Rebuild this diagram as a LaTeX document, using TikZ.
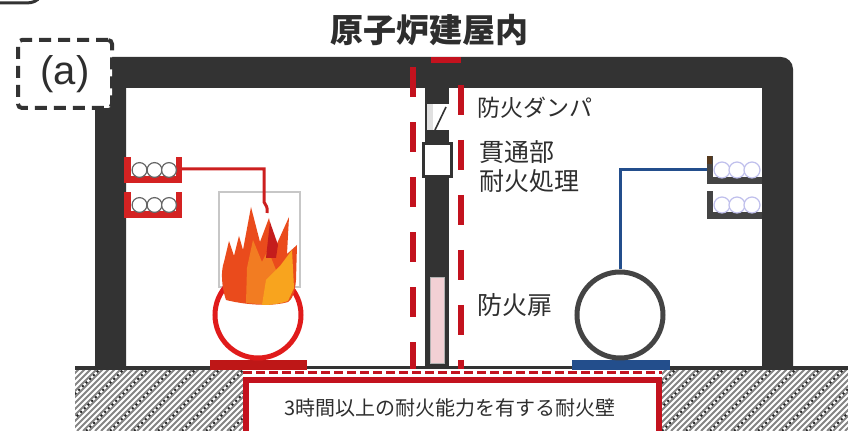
\documentclass[tikz,border=0pt]{standalone}
\usepackage{fontspec}
\newfontfamily\jp{Noto Sans CJK JP}
\newfontfamily\latsans{Liberation Sans}
\definecolor{wallgray}{HTML}{333333}
\definecolor{zonered}{HTML}{C3121E}
\definecolor{trayred}{HTML}{D42222}
\definecolor{eqred}{HTML}{E01B1B}
\definecolor{cablered}{HTML}{CC1F1F}
\definecolor{steelblue}{HTML}{234E8C}
\definecolor{equipgray}{HTML}{444444}
\definecolor{hatchgray}{HTML}{858585}
\definecolor{textgray}{HTML}{2E2E2E}
\definecolor{doorpink}{HTML}{F2D0D4}
\definecolor{flameA}{HTML}{EA4B1C}
\definecolor{flameB}{HTML}{F27C22}
\definecolor{flameC}{HTML}{F8A41E}
\definecolor{flameD}{HTML}{C41C1C}
\begin{document}
\begin{tikzpicture}[x=0.5pt,y=-0.5pt,
  wall/.style={fill=wallgray},
  firezone/.style={draw=zonered, line width=3pt, dash pattern=on 15pt off 12.5pt},
  floorzone/.style={draw=zonered, line width=1.5pt, dash pattern=on 4.5pt off 2pt},
  hatchline/.style={draw=hatchgray, line width=1pt},
  hatchdots/.style={draw=black!85, line width=1pt, dash pattern=on 1pt off 1.6pt},
  lbl/.style={text=textgray, inner sep=0pt, anchor=west},
  cablecirc/.style={fill=white, draw=#1, line width=0.6pt},
  equip/.style={circle, draw=#1, line width=2.5pt, fill=white, minimum size=43pt, inner sep=0pt},
  redcable/.style={draw=cablered, line width=1.5pt},
  bluecable/.style={draw=steelblue, line width=1.5pt},
]
\useasboundingbox (0,0) rectangle (848,431);

% cut-off stroke in the upper left corner
\draw[wallgray, line width=1.5pt] (0,3) -- (26,3) .. controls (33,3) and (37,1) .. (40,-3);

% ground with hatching
\begin{scope}
  \clip (75,369) rectangle (848,431);
  \foreach \k in {0,...,142} { \draw[hatchline] ({11+6*\k},431) -- ({73+6*\k},369); }
  \foreach \k in {0,...,36} { \draw[hatchdots] ({14+24*\k},431) -- ({76+24*\k},369); }
\end{scope}
\draw[wallgray, line width=2.2pt] (75,368) -- (848,368);

% building shell: roof slab and outer walls
\fill[wall] (95,57) [rounded corners=6pt] -- (793,57) [sharp corners] -- (793,367)
  -- (762,367) -- (762,88) -- (126,88) -- (126,367) -- (95,367) -- cycle;

% central fire wall
\fill[wall] (425,88) rectangle (449,367);
% fire damper
\fill[white] (427,104) rectangle (449,130);
\fill[black!12] (427,104) rectangle (433,130);
\draw[wallgray, line width=0.8pt] (435,130) -- (446,107);
% penetration fire treatment
\node[draw=wallgray, line width=1.5pt, fill=white, minimum width=14pt, minimum height=16.5pt, inner sep=0pt] (sleeve) at (437.5,160.5) {};
% fire door
\node[draw=black!30, line width=0.4pt, fill=doorpink, minimum width=7pt, minimum height=43pt, inner sep=0pt] (door) at (437,320.5) {};

% fire zone boundary
\draw[firezone] (413,372) -- (413,60) -- (461,60) -- (461,372);

% floor strip and wall rating box
\fill[white] (243,369) rectangle (662,440);
\draw[floorzone] (243,372.5) -- (662,372.5);
\draw[draw=zonered, line width=3pt] (246,380) rectangle (659,445);
\node[font=\jp\fontsize{10}{12}\selectfont, text=textgray] (rating) at (450,408) {3時間以上の耐火能力を有する耐火壁};

% left cable trays (red)
\foreach \t/\n in {157/1,192/2} {
  \fill[trayred] (124,\t) rectangle (131,\t+26);
  \fill[trayred] (124,\t+19) rectangle (182,\t+26);
  \fill[trayred] (176,\t) rectangle (182,\t+26);
  \foreach \cx in {139.5,154.5,169} { \draw[cablecirc=black!60] (\cx,\t+13) circle[radius=3.7pt]; }
}
\coordinate (trayL1) at (182,169);

% right cable trays (gray)
\foreach \t in {156,191} {
  \fill[equipgray] (707,\t) rectangle (713,\t+28);
  \fill[equipgray] (707,\t+21) rectangle (762,\t+28);
  \foreach \cx in {722,737,752} { \draw[cablecirc=black!30!blue!25] (\cx,\t+14) circle[radius=4pt]; }
}
\fill[black!55!brown] (707,156) rectangle (712,164);
\coordinate (trayR1) at (707,170);

% burning equipment
\draw[black!22, line width=0.6pt] (219,192) rectangle (300,287);
\fill[eqred!85!black] (210,360) rectangle (307,370);
\node[equip=eqred] (pumpL) at (258,315) {};
\fill[flameA] (226,300) .. controls (221,285) and (221,270) .. (224,262) -- (229,241) -- (234,256)
  -- (239,236) -- (243,250) -- (251,207) -- (260,242) -- (269,218) -- (275,248) -- (289,217)
  -- (287,254) -- (297,245) -- (296,280) .. controls (295,292) and (292,300) .. (288,302)
  .. controls (275,306) and (250,306) .. (226,300) -- cycle;
\fill[flameB] (246,303) -- (247,268) -- (253,240) -- (262,262) -- (268,250) -- (276,270)
  -- (270,305) -- cycle;
\fill[flameC] (262,305) -- (266,280) -- (280,266) -- (292,250) -- (294,288) -- (288,301)
  .. controls (280,304) and (270,305) .. (262,305) -- cycle;
\fill[flameD] (266,258) -- (270,222) -- (278,245) -- (276,258) -- cycle;
\coordinate (flamefeed) at (264,202);
\draw[redcable] (trayL1) -| (flamefeed) .. controls (266,206) and (268,207) .. (267,213);

% standby equipment
\fill[steelblue] (572,360) rectangle (670,370);
\node[equip=equipgray] (pumpR) at (620,315) {};
\draw[bluecable] (trayR1) -| (pumpR.north);

% labels
\node[font=\jp\bfseries\fontsize{16.5}{20}\selectfont, text=textgray] (title) at (429,30) {原子炉建屋内};
\node[lbl, font=\jp\fontsize{11.5}{14}\selectfont] (damper) at (477,108) {防火ダンパ};
\node[lbl, font=\jp\fontsize{12.5}{14.5}\selectfont, align=left] (sleevetext) at (479,167) {貫通部\\耐火処理};
\node[lbl, font=\jp\fontsize{12.5}{15}\selectfont] (doortext) at (477,305) {防火扉};

% panel tag
\node[draw=wallgray, line width=2pt, dash pattern=on 6pt off 3.5pt, rounded corners=2pt, fill=white,
  minimum width=47pt, minimum height=34pt, inner sep=0pt, font=\latsans\fontsize{20}{24}\selectfont,
  text=textgray] (tag) at (65,74) {(a)};
\end{tikzpicture}
\end{document}
